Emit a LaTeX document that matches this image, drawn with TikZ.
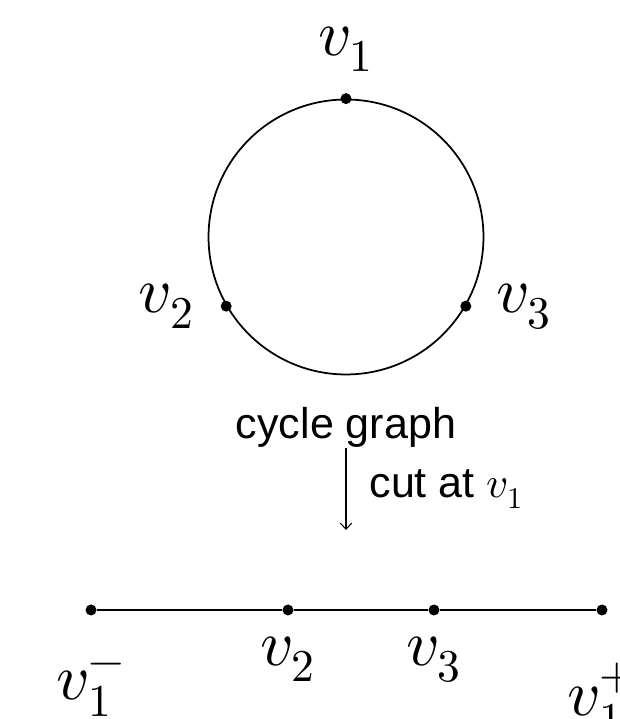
\documentclass[tikz,border=0pt]{standalone}
\usepackage{fontspec}
\usepackage{unicode-math}
\setsansfont{Liberation Sans}
\usetikzlibrary{positioning, arrows.meta}

\begin{document}
\begin{tikzpicture}[x=0.02cm, y=0.02cm, >={Straight Barb[length=3.5pt, width=6.5pt]},
    dot/.style={circle, fill, inner sep=0pt, minimum size=0.22cm},
    vlabel/.style={inner sep=0pt, font=\fontsize{37}{44}\selectfont},
    caption/.style={inner sep=0pt, font=\sffamily\fontsize{24.5}{29}\selectfont}]
  \useasboundingbox (0,0) rectangle (619,719);
  % cycle graph
  \node[circle, draw, line width=1pt, minimum size=5.5cm, inner sep=0pt] (ring) at (346,482) {};
  \node[dot] (c1) at (ring.90) {};
  \node[dot] (c2) at (ring.210) {};
  \node[dot] (c3) at (ring.330) {};
  \node[vlabel, above=0.42cm of c1] (lc1) {$v_1$};
  \node[vlabel, left=0.52cm of c2] (lc2) {$v_2$};
  \node[vlabel, right=0.48cm of c3] (lc3) {$v_3$};
  % cut
  \node[caption, below=0.64cm of ring] (name) {cycle graph};
  \coordinate (cutend) at (346,189);
  \draw[->, line width=0.6pt] (name) -- (cutend) node[midway, right=0.46cm, caption] (cut) {cut at $v_1$};
  % path graph
  \node[dot] (p0) at (91,109) {};
  \node[dot] (p1) at (288,109) {};
  \node[dot] (p2) at (434,109) {};
  \node[dot] (p3) at (602,109) {};
  \draw[line width=1pt] (p0) -- (p1) -- (p2) -- (p3);
  \node[vlabel, below=0.94cm of p0] (lp0) {$v_1^-$};
  \node[vlabel, below=0.42cm of p1] (lp1) {$v_2$};
  \node[vlabel, below=0.42cm of p2] (lp2) {$v_3$};
  \node[vlabel, below=0.94cm of p3] (lp3) {$v_1^+$};
\end{tikzpicture}
\end{document}
